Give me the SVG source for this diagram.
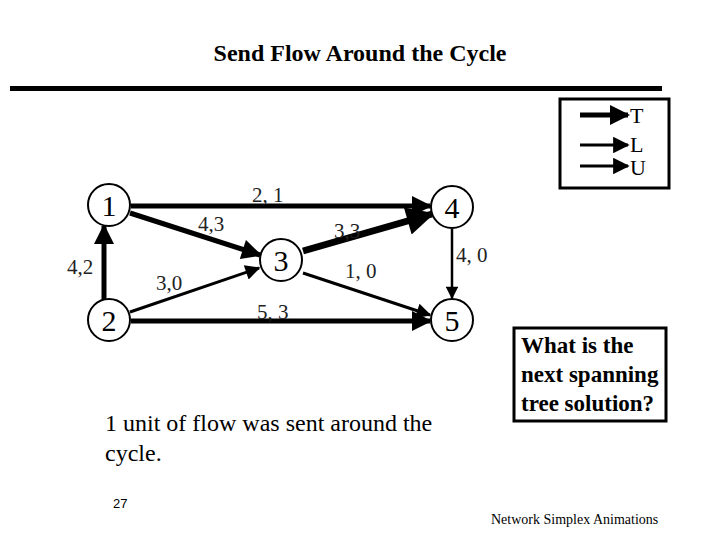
<svg xmlns="http://www.w3.org/2000/svg" width="720" height="540" viewBox="0 0 720 540">
<defs>
<style>
.t{font-family:"Liberation Serif","Times New Roman",serif;fill:#000}
.lbl{font-family:"Liberation Serif","Times New Roman",serif;font-size:21px;fill:#222}
.node circle{fill:#fff;stroke:#000;stroke-width:2}
.node text{font-family:"Liberation Serif","Times New Roman",serif;font-size:30px;text-anchor:middle;fill:#000}
.e{stroke:#000;fill:none}
</style>
<marker id="a" viewBox="0 0 10 10" refX="9" refY="5" markerWidth="4.5" markerHeight="4" orient="auto">
<path d="M0,0 L10,5 L0,10 z" fill="#000"/>
</marker>
<marker id="b" viewBox="0 0 10 10" refX="9" refY="5" markerWidth="6" markerHeight="5" orient="auto">
<path d="M0,0 L10,5 L0,10 z" fill="#000"/>
</marker>
<marker id="c" viewBox="0 0 10 10" refX="9" refY="5" markerWidth="6" markerHeight="5.5" orient="auto">
<path d="M0,0 L10,5 L0,10 z" fill="#000"/>
</marker>
</defs>
<rect width="720" height="540" fill="#fff"/>
<text class="t" x="360" y="61" font-size="24" font-weight="bold" text-anchor="middle">Send Flow Around the Cycle</text>
<rect x="10" y="86" width="652" height="5" fill="#000"/>

<g id="legend">
<rect x="560" y="99" width="109" height="89" fill="#fff" stroke="#000" stroke-width="3"/>
<line x1="580" y1="115" x2="628" y2="115" stroke="#000" stroke-width="5" marker-end="url(#a)"/>
<line x1="580" y1="145" x2="628" y2="145" stroke="#000" stroke-width="3" marker-end="url(#c)"/>
<line x1="580" y1="166" x2="628" y2="166" stroke="#000" stroke-width="3" marker-end="url(#c)"/>
<text class="t" x="630" y="123" font-size="22" fill="#222">T</text>
<text class="t" x="630" y="152" font-size="22" fill="#222">L</text>
<text class="t" x="630" y="175" font-size="22" fill="#222">U</text>
</g>

<g id="connectors">
<line class="e" x1="131" y1="206" x2="430" y2="206" stroke-width="5" marker-end="url(#a)"/>
<line class="e" x1="130" y1="213" x2="260" y2="255" stroke-width="5" marker-end="url(#a)"/>
<line class="e" x1="303" y1="251" x2="432" y2="214" stroke-width="7" marker-end="url(#a)"/>
<line class="e" x1="104" y1="300" x2="104" y2="226" stroke-width="5" marker-end="url(#a)"/>
<line class="e" x1="130" y1="312" x2="259" y2="268" stroke-width="3" marker-end="url(#b)"/>
<line class="e" x1="303" y1="273" x2="430" y2="315" stroke-width="3" marker-end="url(#b)"/>
<line class="e" x1="452" y1="229" x2="452" y2="298" stroke-width="2.5" marker-end="url(#b)"/>
<line class="e" x1="131" y1="321" x2="430" y2="321" stroke-width="5" marker-end="url(#a)"/>
<text class="lbl" x="252" y="202">2, 1</text>
<text class="lbl" x="198" y="231">4,3</text>
<text class="lbl" x="334" y="238">3,3</text>
<text class="lbl" x="67" y="274">4,2</text>
<text class="lbl" x="156" y="290">3,0</text>
<text class="lbl" x="345" y="278">1, 0</text>
<text class="lbl" x="456" y="262">4, 0</text>
<text class="lbl" x="257" y="319">5, 3</text>
</g>

<g id="n1" class="node"><circle cx="109" cy="205" r="21"/><text x="109" y="216">1</text></g>
<g id="n2" class="node"><circle cx="109" cy="320" r="21"/><text x="109" y="331">2</text></g>
<g id="n3" class="node"><circle cx="281" cy="260" r="21"/><text x="281" y="271">3</text></g>
<g id="n4" class="node"><circle cx="452" cy="207" r="21"/><text x="452" y="218">4</text></g>
<g id="n5" class="node"><circle cx="452" cy="320" r="21"/><text x="452" y="331">5</text></g>

<g id="question">
<rect x="514" y="328" width="152" height="93" fill="#fff" stroke="#000" stroke-width="3"/>
<text class="t" x="521" y="353" font-size="23" font-weight="bold">What is the</text>
<text class="t" x="521" y="382" font-size="23" font-weight="bold">next spanning</text>
<text class="t" x="521" y="411" font-size="23" font-weight="bold">tree solution?</text>
</g>

<text class="t" x="105" y="431" font-size="24">1 unit of flow was sent around the</text>
<text class="t" x="105" y="461" font-size="24">cycle.</text>
<text x="113" y="508" font-size="13" font-family="Liberation Sans, Arial, sans-serif">27</text>
<text class="t" x="491" y="524" font-size="14">Network Simplex Animations</text>
</svg>
